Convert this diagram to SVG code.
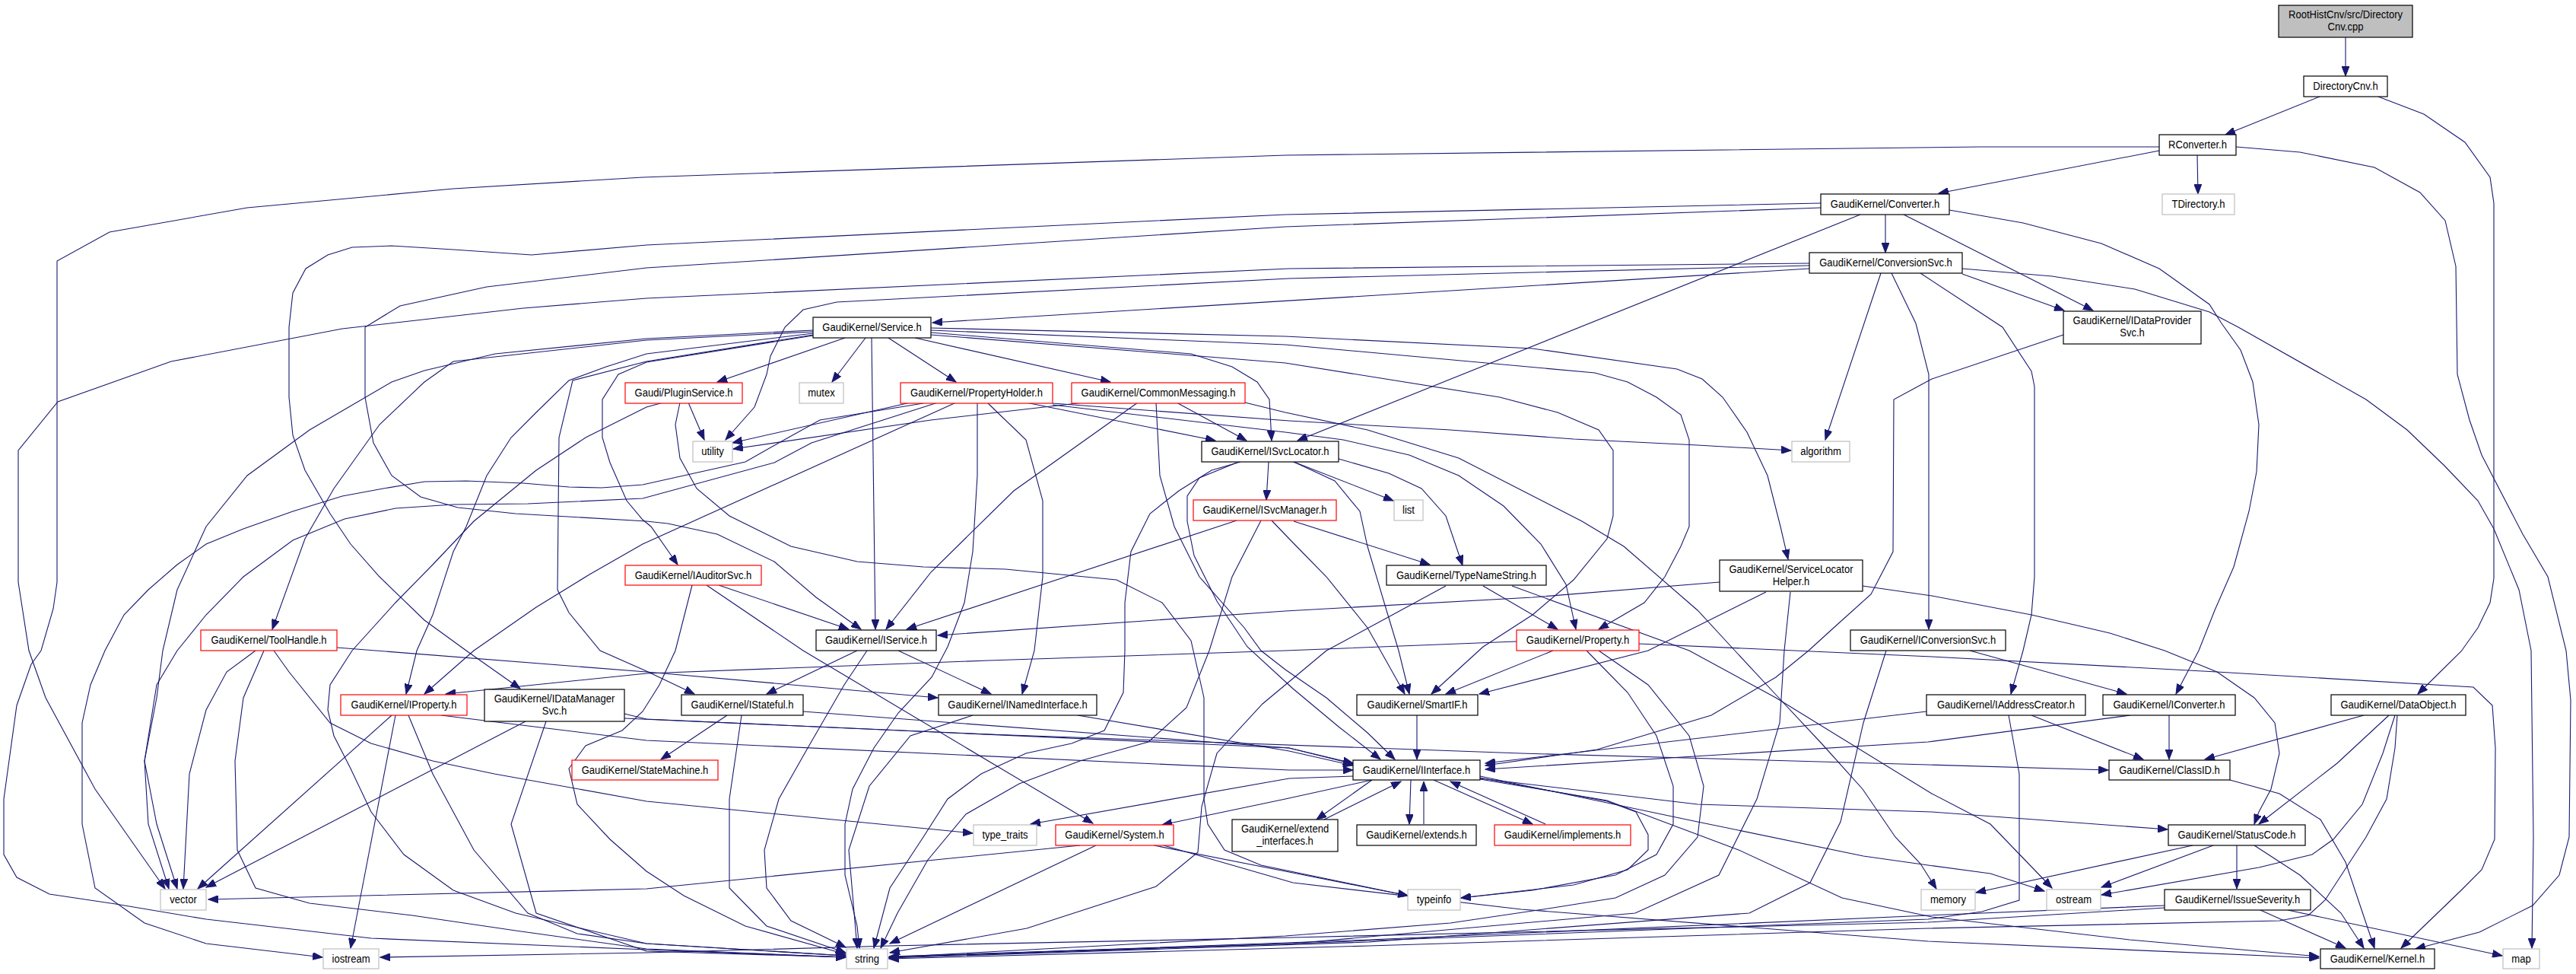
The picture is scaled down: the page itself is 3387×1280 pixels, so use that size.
<svg xmlns="http://www.w3.org/2000/svg" width="3387" height="1280" viewBox="0 0 3387 1280">
<style>
rect{fill:#fff;stroke:#000;stroke-width:1.2}
.r rect{stroke:#f00}
.g rect{stroke:#bfbfbf}
.root rect{fill:#bfbfbf}
text{font-family:"Liberation Sans",Arial,sans-serif;font-size:15px;text-anchor:middle;fill:#000}
#edges path{fill:none;stroke:#191970;stroke-width:1.1;marker-end:url(#a)}
</style>
<defs>
<marker id="a" markerWidth="14" markerHeight="10" refX="13" refY="5" orient="auto" markerUnits="userSpaceOnUse"><path d="M0,0 L13,5 L0,10 z" fill="#191970" stroke="#191970"/></marker>
</defs>
<rect x="0" y="0" width="3387" height="1280" style="fill:#fff;stroke:none"/>
<g id="edges">
<path d="M3084,49 L3084,100"/>
<path d="M3050,127 L2926,177"/>
<path d="M3127,127 L3187,150 L3241,187 L3274,233 L3279,267 L3279,760 L3274,792 L3258,825 L3236,856 L3179,912"/>
<path d="M2839,198 L2549,254"/>
<path d="M2889,204 L2890,255"/>
<path d="M2839,193 L2603,193 L1690,204 L845,233 L596,248 L325,273 L144,305 L75,343 L75,765 L70,800 L54,855 L41,873 L22,927 L5,1050 L5,1123 L22,1153 L65,1175 L152,1188 L271,1208 L488,1233 L850,1248 L1112,1258"/>
<path d="M2940,193 L3024,200 L3122,220 L3182,253 L3215,290 L3229,350 L3231,492 L3247,552 L3263,598 L3317,702 L3350,758 L3374,855 L3380,920 L3378,1100 L3365,1150 L3330,1190 L3260,1225 L3176,1247"/>
<path d="M2580,353 L2698,363 L2807,380 L2905,410 L2943,430 L3111,525 L3165,565 L3214,612 L3258,658 L3279,695 L3312,775 L3328,855 L3331,1100 L3329,1246"/>
<path d="M2479,282 L2479,332"/>
<path d="M2503,282 L2752,408"/>
<path d="M2446,282 L1706,579"/>
<path d="M2563,276 L2660,293 L2763,320 L2839,353 L2905,400 L2921,425 L2946,460 L2962,502 L2970,558 L2967,620 L2957,672 L2937,745 L2912,802 L2891,855 L2861,912"/>
<path d="M2394,267 L1690,282 L850,322 L699,335 L596,328 L515,323 L463,325 L431,335 L402,353 L385,385 L380,430 L380,522 L385,572 L401,618 L434,675 L461,715 L499,758 L558,815 L613,855 L684,905"/>
<path d="M2394,273 L1690,298 L850,352 L640,377 L526,402 L480,430 L480,522 L491,582 L515,625 L553,653 L602,667 L678,675 L850,685 L878,688 L943,702 L1018,738 L1073,785 L1132,827"/>
<path d="M2379,353 L1226,424"/>
<path d="M2379,349 L1695,366 L1100,397 L1056,407 L1032,430 L1013,468 L1008,492 L992,535 L954,578"/>
<path d="M2379,346 L1695,353 L850,392 L688,405 L512,425 L450,432 L225,475 L76,528 L24,592 L24,765 L38,855 L60,917 L125,1037 L217,1168"/>
<path d="M2473,359 L2400,578"/>
<path d="M2487,359 L2519,425 L2536,492 L2536,827"/>
<path d="M2525,359 L2633,430 L2671,488 L2675,508 L2675,758 L2671,808 L2660,855 L2644,912"/>
<path d="M2580,360 L2714,408"/>
<path d="M1111,444 L943,502"/>
<path d="M1138,444 L1094,502"/>
<path d="M1146,444 L1151,827"/>
<path d="M1168,444 L1257,502"/>
<path d="M1203,444 L1460,502"/>
<path d="M1224,437 L1566,465 L1620,482 L1653,502 L1669,525 L1672,579"/>
<path d="M1224,431 L1690,442 L2015,458 L2205,485 L2238,498 L2265,522 L2297,568 L2324,625 L2341,692 L2351,735"/>
<path d="M1224,434 L1690,453 L2097,490 L2140,502 L2178,522 L2210,545 L2221,578 L2221,692 L2210,718 L2189,758 L2162,792 L2102,827"/>
<path d="M1224,440 L1690,477 L1972,522 L2048,542 L2102,565 L2121,592 L2121,678 L2113,708 L2069,762 L2015,808 L1950,850 L1882,912"/>
<path d="M1069,434 L850,445 L651,465 L558,487 L515,502 L407,565 L325,625 L271,692 L233,775 L214,855 L206,917 L190,1000 L195,1083 L222,1168"/>
<path d="M1069,436 L850,447 L596,475 L558,502 L499,558 L439,642 L401,708 L358,827"/>
<path d="M1069,438 L850,465 L797,482 L748,500 L705,542 L672,575 L640,625 L613,692 L596,725 L569,808 L548,855 L534,912"/>
<path d="M1069,440 L850,475 L753,500 L735,575 L733,775 L748,805 L789,855 L850,882 L913,912"/>
<path d="M1069,441 L850,476 L813,492 L792,525 L792,575 L802,608 L824,658 L845,683 L856,692 L891,742"/>
<path d="M905,529 L926,578"/>
<path d="M872,529 L850,535 L770,575 L705,618 L623,685 L569,742 L520,792 L463,855 L434,900 L431,933 L439,967 L461,1010 L488,1067 L531,1123 L596,1170 L678,1200 L850,1240 L1112,1256"/>
<path d="M894,529 L888,558 L894,602 L916,642 L959,678 L1040,718 L1127,738 L1214,745 L1322,748 L1468,762 L1528,792 L1566,842 L1583,917 L1583,1050 L1588,1083 L1610,1117 L1658,1137 L1851,1177"/>
<path d="M1197,529 L963,582"/>
<path d="M1214,530 L1078,552 L1024,582 L980,607 L845,637 L791,641 L748,640 L688,635 L613,632 L558,633 L504,642 L450,652 L385,672 L320,695 L271,715 L233,742 L195,775 L163,808 L138,855 L119,900 L108,950 L108,1083 L125,1167 L190,1213 L271,1240 L424,1258"/>
<path d="M1233,529 L1067,582 L1018,608 L845,655 L694,662 L596,663 L520,668 L453,682 L385,710 L320,758 L271,808 L233,855 L206,900 L190,1000 L206,1083 L233,1168"/>
<path d="M1257,529 L845,715 L775,755 L705,798 L623,855 L558,912"/>
<path d="M1285,529 L1285,625 L1279,725 L1268,792 L1246,850 L1225,890 L1181,937 L1149,983 L1121,1037 L1111,1083 L1111,1150 L1127,1217 L1130,1246"/>
<path d="M1298,529 L1349,578 L1371,658 L1371,758 L1360,855 L1344,912"/>
<path d="M1349,529 L1598,579"/>
<path d="M1384,530 L1695,553 L1907,565 L2069,577 L2232,585 L2355,592"/>
<path d="M1384,532 L1690,568 L1766,578 L1853,598 L1918,625 L1977,665 L2026,715 L2059,768 L2072,827"/>
<path d="M1425,529 L1224,552 L964,590"/>
<path d="M1496,529 L1333,645 L1224,752 L1165,827"/>
<path d="M1547,529 L1639,579"/>
<path d="M1637,529 L1690,542 L1798,565 L1918,602 L2080,685 L2135,718 L2232,802 L2281,855 L2335,913 L2395,977 L2449,1037 L2492,1100 L2525,1135 L2546,1168"/>
<path d="M1520,529 L1525,625 L1544,692 L1577,758 L1636,825 L1658,855 L1690,880 L1744,917 L1798,963 L1834,998"/>
<path d="M1668,607 L1665,657"/>
<path d="M1701,607 L1832,658"/>
<path d="M1760,603 L1826,622 L1869,642 L1901,678 L1923,743"/>
<path d="M1701,607 L1755,632 L1788,672 L1798,718 L1820,792 L1839,855 L1853,912"/>
<path d="M1631,607 L1593,618 L1550,645 L1512,675 L1487,725 L1479,792 L1479,855 L1477,910 L1452,960 L1409,977 L1349,990 L1290,1017 L1246,1050 L1214,1100 L1170,1167 L1149,1246"/>
<path d="M1626,608 L1577,628 L1561,652 L1561,685 L1570,730 L1600,790 L1640,850 L1700,905 L1760,955 L1815,998"/>
<path d="M1626,684 L1192,827"/>
<path d="M1701,685 L1880,742"/>
<path d="M1672,684 L1695,708 L1744,758 L1798,825 L1815,855 L1847,912"/>
<path d="M1658,684 L1620,758 L1590,855 L1560,930 L1510,975 L1420,1000 L1340,1030 L1270,1070 L1220,1130 L1180,1200 L1158,1246"/>
<path d="M945,769 L1116,827"/>
<path d="M910,769 L888,855 L867,900 L845,935 L818,960 L770,980 L748,1010 L759,1057 L802,1103 L850,1145 L899,1177 L980,1217 L1112,1254"/>
<path d="M929,769 L1056,855 L1437,1082"/>
<path d="M336,855 L298,883 L271,933 L249,1017 L241,1168"/>
<path d="M347,855 L320,917 L309,1000 L312,1117 L336,1167 L407,1187 L542,1203 L678,1223 L850,1247 L1112,1258"/>
<path d="M443,851 L850,883 L1233,917"/>
<path d="M360,855 L380,883 L434,950 L488,977 L569,1000 L650,1017 L850,1053 L1279,1095"/>
<path d="M1127,855 L1008,912"/>
<path d="M1181,855 L1303,912"/>
<path d="M1140,855 L1110,900 L1062,983 L1024,1050 L1005,1117 L1008,1167 L1040,1210 L1112,1245"/>
<path d="M1994,843 L1690,855 L1300,868 L850,885 L586,912"/>
<path d="M2042,855 L1901,912"/>
<path d="M2086,855 L2140,910 L2178,967 L2200,1033 L2200,1083 L2178,1123 L2124,1150 L2015,1170 L1921,1180"/>
<path d="M2102,855 L2167,900 L2221,967 L2240,1033 L2232,1100 L2189,1150 L2124,1180 L2042,1193 L1907,1213 L1690,1230 L1169,1258"/>
<path d="M2155,846 L2540,863 L2915,883 L3252,903 L3277,927 L3281,983 L3280,1103 L3263,1143 L3236,1170 L3157,1246"/>
<path d="M1901,770 L1744,855 L1660,925 L1600,990 L1580,1060 L1575,1120 L1520,1165 L1350,1220 L1170,1252"/>
<path d="M1950,770 L2048,827"/>
<path d="M1988,770 L2221,855 L2335,917 L2540,1043 L2617,1083 L2698,1167"/>
<path d="M2261,765 L2015,785 L1690,803 L1233,835"/>
<path d="M2322,778 L2167,855 L1945,912"/>
<path d="M2354,778 L2346,855 L2340,950 L2310,1050 L2260,1150 L2150,1200 L1700,1240 L1169,1257"/>
<path d="M2449,770 L2540,783 L2671,808 L2774,832 L2846,855 L2915,883 L2964,917 L2991,950 L2997,990 L2986,1037 L2970,1067 L2964,1083"/>
<path d="M2590,855 L2796,912"/>
<path d="M2480,855 L2450,950 L2420,1080 L2380,1160 L2300,1200 L1800,1238 L1169,1259"/>
<path d="M2533,935 L1953,1003"/>
<path d="M2801,940 L2535,975 L1953,1011"/>
<path d="M2713,440 L2540,498 L2490,525 L2489,725 L2460,781 L2411,825 L2378,855 L2335,890 L2250,940 L2100,985 L1953,1006"/>
<path d="M515,940 L260,1168"/>
<path d="M520,940 L461,1246"/>
<path d="M537,940 L569,1017 L623,1117 L694,1200 L759,1227 L850,1240 L1112,1256"/>
<path d="M580,940 L850,973 L1695,1012 L1779,1012"/>
<path d="M691,948 L271,1166"/>
<path d="M718,948 L672,1083 L705,1200 L850,1250 L1112,1258"/>
<path d="M821,938 L850,945 L1695,983 L1779,1003"/>
<path d="M821,944 L1300,965 L2000,990 L2535,1005 L2772,1012"/>
<path d="M956,940 L869,998"/>
<path d="M975,940 L959,1050 L959,1167 L1008,1217 L1112,1252"/>
<path d="M1056,935 L1695,983 L1779,1004"/>
<path d="M1417,940 L1695,987 L1779,1006"/>
<path d="M1279,940 L1197,967 L1143,1033 L1116,1117 L1127,1246"/>
<path d="M1863,940 L1863,998"/>
<path d="M2671,940 L2818,998"/>
<path d="M2641,940 L2655,1017 L2655,1183 L2606,1198 L2535,1208 L1700,1240 L1169,1258"/>
<path d="M2852,940 L2852,998"/>
<path d="M3108,940 L2899,998"/>
<path d="M3141,940 L3073,1003 L2970,1083"/>
<path d="M3149,940 L3133,990 L3106,1057 L3068,1103 L3040,1123 L2970,1140 L2763,1176"/>
<path d="M3152,940 L3149,983 L3138,1050 L3111,1100 L3057,1183 L3035,1203 L2997,1210 L2535,1220 L1800,1243 L1169,1260"/>
<path d="M2932,1025 L2997,1043 L3051,1077 L3084,1133 L3122,1246"/>
<path d="M1804,1025 L1731,1077"/>
<path d="M1855,1025 L1853,1083"/>
<path d="M1885,1025 L2015,1083"/>
<path d="M1945,1022 L2113,1053 L2151,1067 L2167,1097 L2167,1117 L2140,1143 L2069,1163 L1921,1180"/>
<path d="M1946,1023 L2232,1057 L2540,1067 L2850,1090"/>
<path d="M1946,1020 L2232,1080 L2450,1125 L2535,1137 L2617,1148 L2688,1171"/>
<path d="M1946,1024 L2113,1052 L2286,1117 L2422,1180 L2540,1205 L2800,1235 L3049,1257"/>
<path d="M1804,1025 L1690,1050 L1528,1084"/>
<path d="M1779,1020 L1695,1023 L1355,1083"/>
<path d="M1741,1077 L1842,1027"/>
<path d="M1872,1083 L1872,1027"/>
<path d="M2032,1083 L1907,1027"/>
<path d="M1420,1111 L850,1168 L274,1182"/>
<path d="M1441,1111 L1170,1240"/>
<path d="M1517,1111 L1695,1146 L1851,1177"/>
<path d="M1530,1111 L1700,1160 L2000,1195 L2535,1237 L3049,1259"/>
<path d="M2883,1111 L2598,1173"/>
<path d="M2910,1111 L2763,1166"/>
<path d="M2941,1111 L2941,1168"/>
<path d="M2964,1111 L3024,1150 L3078,1200 L3108,1246"/>
<path d="M2972,1196 L3084,1246"/>
<path d="M3008,1196 L3290,1256"/>
<path d="M2846,1190 L2535,1203 L1800,1235 L1169,1258"/>
<path d="M2846,1193 L2535,1212 L1700,1232 L1170,1243 L850,1252 L500,1258"/>
</g>
<g id="n_root" class="root"><rect x="2996" y="7" width="176" height="42"/><text transform="translate(3084,24) scale(.87,1)">RootHistCnv/src/Directory</text><text transform="translate(3084,40) scale(.87,1)">Cnv.cpp</text></g>
<g id="n_dircnv"><rect x="3029" y="100" width="110" height="27"/><text transform="translate(3084,118) scale(.87,1)">DirectoryCnv.h</text></g>
<g id="n_rconv"><rect x="2839" y="177" width="101" height="27"/><text transform="translate(2889.5,195) scale(.87,1)">RConverter.h</text></g>
<g id="n_tdir" class="g"><rect x="2843" y="255" width="95" height="27"/><text transform="translate(2890.5,273) scale(.87,1)">TDirectory.h</text></g>
<g id="n_converter"><rect x="2394" y="255" width="169" height="27"/><text transform="translate(2478.5,273) scale(.87,1)">GaudiKernel/Converter.h</text></g>
<g id="n_convsvc"><rect x="2379" y="332" width="201" height="27"/><text transform="translate(2479.5,350) scale(.87,1)">GaudiKernel/ConversionSvc.h</text></g>
<g id="n_idps"><rect x="2713" y="409" width="181" height="43"/><text transform="translate(2803.5,426) scale(.87,1)">GaudiKernel/IDataProvider</text><text transform="translate(2803.5,442) scale(.87,1)">Svc.h</text></g>
<g id="n_service"><rect x="1069" y="417" width="155" height="27"/><text transform="translate(1146.5,435) scale(.87,1)">GaudiKernel/Service.h</text></g>
<g id="n_plugin" class="r"><rect x="822" y="503" width="154" height="27"/><text transform="translate(899,521) scale(.87,1)">Gaudi/PluginService.h</text></g>
<g id="n_mutex" class="g"><rect x="1051" y="503" width="58" height="27"/><text transform="translate(1080,521) scale(.87,1)">mutex</text></g>
<g id="n_propholder" class="r"><rect x="1184" y="503" width="200" height="27"/><text transform="translate(1284,521) scale(.87,1)">GaudiKernel/PropertyHolder.h</text></g>
<g id="n_commsg" class="r"><rect x="1409" y="503" width="228" height="27"/><text transform="translate(1523,521) scale(.87,1)">GaudiKernel/CommonMessaging.h</text></g>
<g id="n_utility" class="g"><rect x="911" y="580" width="52" height="27"/><text transform="translate(937,598) scale(.87,1)">utility</text></g>
<g id="n_isvcloc"><rect x="1580" y="580" width="180" height="27"/><text transform="translate(1670,598) scale(.87,1)">GaudiKernel/ISvcLocator.h</text></g>
<g id="n_algorithm" class="g"><rect x="2356" y="580" width="76" height="27"/><text transform="translate(2394,598) scale(.87,1)">algorithm</text></g>
<g id="n_isvcmgr" class="r"><rect x="1569" y="657" width="188" height="27"/><text transform="translate(1663,675) scale(.87,1)">GaudiKernel/ISvcManager.h</text></g>
<g id="n_list" class="g"><rect x="1833" y="657" width="38" height="27"/><text transform="translate(1852,675) scale(.87,1)">list</text></g>
<g id="n_iauditor" class="r"><rect x="822" y="743" width="179" height="26"/><text transform="translate(911.5,761) scale(.87,1)">GaudiKernel/IAuditorSvc.h</text></g>
<g id="n_typename"><rect x="1823" y="743" width="210" height="26"/><text transform="translate(1928,761) scale(.87,1)">GaudiKernel/TypeNameString.h</text></g>
<g id="n_slhelper"><rect x="2261" y="736" width="188" height="41"/><text transform="translate(2355,753) scale(.87,1)">GaudiKernel/ServiceLocator</text><text transform="translate(2355,769) scale(.87,1)">Helper.h</text></g>
<g id="n_toolhandle" class="r"><rect x="264" y="828" width="179" height="27"/><text transform="translate(353.5,846) scale(.87,1)">GaudiKernel/ToolHandle.h</text></g>
<g id="n_iservice"><rect x="1073" y="828" width="158" height="27"/><text transform="translate(1152,846) scale(.87,1)">GaudiKernel/IService.h</text></g>
<g id="n_property" class="r"><rect x="1994" y="828" width="161" height="27"/><text transform="translate(2074.5,846) scale(.87,1)">GaudiKernel/Property.h</text></g>
<g id="n_iconvsvc"><rect x="2433" y="828" width="204" height="27"/><text transform="translate(2535,846) scale(.87,1)">GaudiKernel/IConversionSvc.h</text></g>
<g id="n_iproperty" class="r"><rect x="448" y="913" width="166" height="27"/><text transform="translate(531,931) scale(.87,1)">GaudiKernel/IProperty.h</text></g>
<g id="n_idms"><rect x="637" y="906" width="184" height="42"/><text transform="translate(729,923) scale(.87,1)">GaudiKernel/IDataManager</text><text transform="translate(729,939) scale(.87,1)">Svc.h</text></g>
<g id="n_istateful"><rect x="896" y="913" width="160" height="27"/><text transform="translate(976,931) scale(.87,1)">GaudiKernel/IStateful.h</text></g>
<g id="n_inamed"><rect x="1234" y="913" width="208" height="27"/><text transform="translate(1338,931) scale(.87,1)">GaudiKernel/INamedInterface.h</text></g>
<g id="n_smartif"><rect x="1784" y="913" width="159" height="27"/><text transform="translate(1863.5,931) scale(.87,1)">GaudiKernel/SmartIF.h</text></g>
<g id="n_iaddr"><rect x="2533" y="913" width="209" height="27"/><text transform="translate(2637.5,931) scale(.87,1)">GaudiKernel/IAddressCreator.h</text></g>
<g id="n_iconverter"><rect x="2765" y="913" width="174" height="27"/><text transform="translate(2852,931) scale(.87,1)">GaudiKernel/IConverter.h</text></g>
<g id="n_dataobject"><rect x="3065" y="913" width="177" height="27"/><text transform="translate(3153.5,931) scale(.87,1)">GaudiKernel/DataObject.h</text></g>
<g id="n_statemachine" class="r"><rect x="752" y="999" width="192" height="26"/><text transform="translate(848,1017) scale(.87,1)">GaudiKernel/StateMachine.h</text></g>
<g id="n_iinterface"><rect x="1779" y="999" width="167" height="26"/><text transform="translate(1862.5,1017) scale(.87,1)">GaudiKernel/IInterface.h</text></g>
<g id="n_classid"><rect x="2773" y="999" width="159" height="26"/><text transform="translate(2852.5,1017) scale(.87,1)">GaudiKernel/ClassID.h</text></g>
<g id="n_typetraits" class="g"><rect x="1280" y="1084" width="83" height="27"/><text transform="translate(1321.5,1102) scale(.87,1)">type_traits</text></g>
<g id="n_system" class="r"><rect x="1388" y="1084" width="155" height="27"/><text transform="translate(1465.5,1102) scale(.87,1)">GaudiKernel/System.h</text></g>
<g id="n_extendif"><rect x="1620" y="1077" width="139" height="42"/><text transform="translate(1689.5,1094) scale(.87,1)">GaudiKernel/extend</text><text transform="translate(1689.5,1110) scale(.87,1)">_interfaces.h</text></g>
<g id="n_extends"><rect x="1784" y="1084" width="157" height="27"/><text transform="translate(1862.5,1102) scale(.87,1)">GaudiKernel/extends.h</text></g>
<g id="n_implements" class="r"><rect x="1965" y="1084" width="179" height="27"/><text transform="translate(2054.5,1102) scale(.87,1)">GaudiKernel/implements.h</text></g>
<g id="n_statuscode"><rect x="2851" y="1084" width="180" height="27"/><text transform="translate(2941,1102) scale(.87,1)">GaudiKernel/StatusCode.h</text></g>
<g id="n_vector" class="g"><rect x="211" y="1169" width="60" height="27"/><text transform="translate(241,1187) scale(.87,1)">vector</text></g>
<g id="n_typeinfo" class="g"><rect x="1851" y="1169" width="69" height="27"/><text transform="translate(1885.5,1187) scale(.87,1)">typeinfo</text></g>
<g id="n_memory" class="g"><rect x="2526" y="1169" width="71" height="27"/><text transform="translate(2561.5,1187) scale(.87,1)">memory</text></g>
<g id="n_ostream" class="g"><rect x="2691" y="1169" width="71" height="27"/><text transform="translate(2726.5,1187) scale(.87,1)">ostream</text></g>
<g id="n_issue"><rect x="2846" y="1169" width="192" height="27"/><text transform="translate(2942,1187) scale(.87,1)">GaudiKernel/IssueSeverity.h</text></g>
<g id="n_iostream" class="g"><rect x="425" y="1247" width="73" height="26"/><text transform="translate(461.5,1265) scale(.87,1)">iostream</text></g>
<g id="n_string" class="g"><rect x="1113" y="1247" width="54" height="26"/><text transform="translate(1140,1265) scale(.87,1)">string</text></g>
<g id="n_kernel"><rect x="3051" y="1247" width="150" height="26"/><text transform="translate(3126,1265) scale(.87,1)">GaudiKernel/Kernel.h</text></g>
<g id="n_map" class="g"><rect x="3291" y="1247" width="48" height="26"/><text transform="translate(3315,1265) scale(.87,1)">map</text></g>
</svg>
